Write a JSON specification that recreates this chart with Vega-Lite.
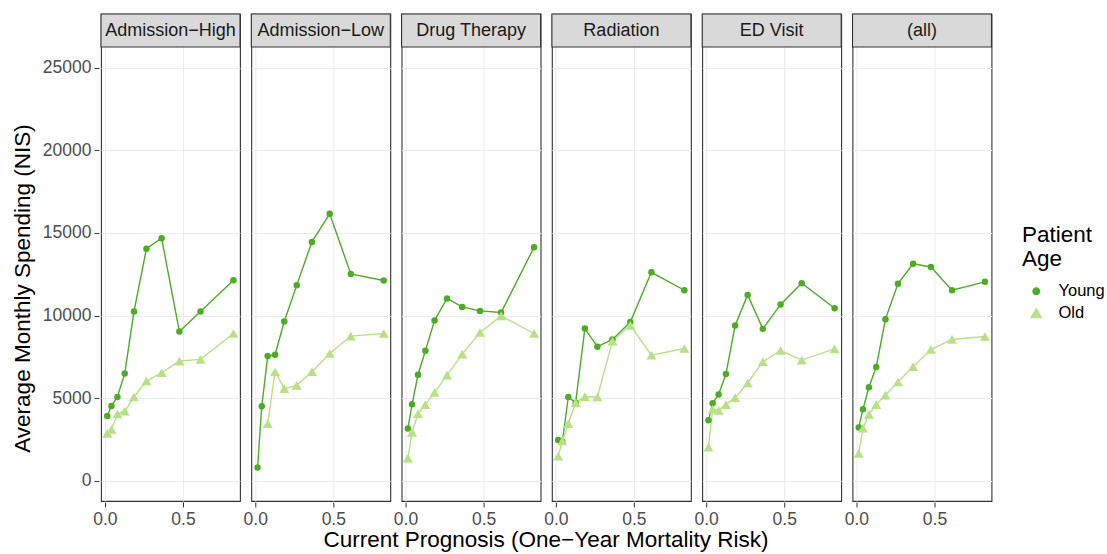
{
  "$schema": "https://vega.github.io/schema/vega-lite/v6.json",
  "padding": {"left": 11, "top": 12, "right": 5, "bottom": 5},
  "data": {
    "values": [
      {"panel": "Admission−High", "age": "Young", "risk": 0.015, "spend": 3910},
      {"panel": "Admission−High", "age": "Young", "risk": 0.042, "spend": 4520},
      {"panel": "Admission−High", "age": "Young", "risk": 0.08, "spend": 5060},
      {"panel": "Admission−High", "age": "Young", "risk": 0.127, "spend": 6490},
      {"panel": "Admission−High", "age": "Young", "risk": 0.186, "spend": 10240},
      {"panel": "Admission−High", "age": "Young", "risk": 0.266, "spend": 14050},
      {"panel": "Admission−High", "age": "Young", "risk": 0.363, "spend": 14680},
      {"panel": "Admission−High", "age": "Young", "risk": 0.477, "spend": 9030},
      {"panel": "Admission−High", "age": "Young", "risk": 0.612, "spend": 10240},
      {"panel": "Admission−High", "age": "Young", "risk": 0.823, "spend": 12140},
      {"panel": "Admission−High", "age": "Old", "risk": 0.015, "spend": 2860},
      {"panel": "Admission−High", "age": "Old", "risk": 0.042, "spend": 3100},
      {"panel": "Admission−High", "age": "Old", "risk": 0.08, "spend": 4030},
      {"panel": "Admission−High", "age": "Old", "risk": 0.127, "spend": 4210},
      {"panel": "Admission−High", "age": "Old", "risk": 0.186, "spend": 5060},
      {"panel": "Admission−High", "age": "Old", "risk": 0.266, "spend": 6030},
      {"panel": "Admission−High", "age": "Old", "risk": 0.363, "spend": 6530},
      {"panel": "Admission−High", "age": "Old", "risk": 0.477, "spend": 7240},
      {"panel": "Admission−High", "age": "Old", "risk": 0.612, "spend": 7340},
      {"panel": "Admission−High", "age": "Old", "risk": 0.823, "spend": 8910},

      {"panel": "Admission−Low", "age": "Young", "risk": 0.015, "spend": 790},
      {"panel": "Admission−Low", "age": "Young", "risk": 0.042, "spend": 4500},
      {"panel": "Admission−Low", "age": "Young", "risk": 0.08, "spend": 7540},
      {"panel": "Admission−Low", "age": "Young", "risk": 0.127, "spend": 7620},
      {"panel": "Admission−Low", "age": "Young", "risk": 0.186, "spend": 9640},
      {"panel": "Admission−Low", "age": "Young", "risk": 0.266, "spend": 11840},
      {"panel": "Admission−Low", "age": "Young", "risk": 0.363, "spend": 14460},
      {"panel": "Admission−Low", "age": "Young", "risk": 0.477, "spend": 16160},
      {"panel": "Admission−Low", "age": "Young", "risk": 0.612, "spend": 12520},
      {"panel": "Admission−Low", "age": "Young", "risk": 0.823, "spend": 12120},
      {"panel": "Admission−Low", "age": "Old", "risk": 0.08, "spend": 3450},
      {"panel": "Admission−Low", "age": "Old", "risk": 0.127, "spend": 6590},
      {"panel": "Admission−Low", "age": "Old", "risk": 0.186, "spend": 5570},
      {"panel": "Admission−Low", "age": "Old", "risk": 0.266, "spend": 5770},
      {"panel": "Admission−Low", "age": "Old", "risk": 0.363, "spend": 6590},
      {"panel": "Admission−Low", "age": "Old", "risk": 0.477, "spend": 7700},
      {"panel": "Admission−Low", "age": "Old", "risk": 0.612, "spend": 8750},
      {"panel": "Admission−Low", "age": "Old", "risk": 0.823, "spend": 8910},

      {"panel": "Drug Therapy", "age": "Young", "risk": 0.015, "spend": 3150},
      {"panel": "Drug Therapy", "age": "Young", "risk": 0.042, "spend": 4620},
      {"panel": "Drug Therapy", "age": "Young", "risk": 0.08, "spend": 6410},
      {"panel": "Drug Therapy", "age": "Young", "risk": 0.127, "spend": 7860},
      {"panel": "Drug Therapy", "age": "Young", "risk": 0.186, "spend": 9700},
      {"panel": "Drug Therapy", "age": "Young", "risk": 0.266, "spend": 11030},
      {"panel": "Drug Therapy", "age": "Young", "risk": 0.363, "spend": 10520},
      {"panel": "Drug Therapy", "age": "Young", "risk": 0.477, "spend": 10280},
      {"panel": "Drug Therapy", "age": "Young", "risk": 0.612, "spend": 10180},
      {"panel": "Drug Therapy", "age": "Young", "risk": 0.823, "spend": 14130},
      {"panel": "Drug Therapy", "age": "Old", "risk": 0.015, "spend": 1350},
      {"panel": "Drug Therapy", "age": "Old", "risk": 0.042, "spend": 2920},
      {"panel": "Drug Therapy", "age": "Old", "risk": 0.08, "spend": 4050},
      {"panel": "Drug Therapy", "age": "Old", "risk": 0.127, "spend": 4600},
      {"panel": "Drug Therapy", "age": "Old", "risk": 0.186, "spend": 5340},
      {"panel": "Drug Therapy", "age": "Old", "risk": 0.266, "spend": 6390},
      {"panel": "Drug Therapy", "age": "Old", "risk": 0.363, "spend": 7660},
      {"panel": "Drug Therapy", "age": "Old", "risk": 0.477, "spend": 8970},
      {"panel": "Drug Therapy", "age": "Old", "risk": 0.612, "spend": 9980},
      {"panel": "Drug Therapy", "age": "Old", "risk": 0.823, "spend": 8910},

      {"panel": "Radiation", "age": "Young", "risk": 0.015, "spend": 2460},
      {"panel": "Radiation", "age": "Young", "risk": 0.042, "spend": 2360},
      {"panel": "Radiation", "age": "Young", "risk": 0.08, "spend": 5060},
      {"panel": "Radiation", "age": "Young", "risk": 0.127, "spend": 4720},
      {"panel": "Radiation", "age": "Young", "risk": 0.186, "spend": 9210},
      {"panel": "Radiation", "age": "Young", "risk": 0.266, "spend": 8110},
      {"panel": "Radiation", "age": "Young", "risk": 0.363, "spend": 8550},
      {"panel": "Radiation", "age": "Young", "risk": 0.477, "spend": 9600},
      {"panel": "Radiation", "age": "Young", "risk": 0.612, "spend": 12620},
      {"panel": "Radiation", "age": "Young", "risk": 0.823, "spend": 11530},
      {"panel": "Radiation", "age": "Old", "risk": 0.015, "spend": 1470},
      {"panel": "Radiation", "age": "Old", "risk": 0.042, "spend": 2400},
      {"panel": "Radiation", "age": "Old", "risk": 0.08, "spend": 3450},
      {"panel": "Radiation", "age": "Old", "risk": 0.127, "spend": 4720},
      {"panel": "Radiation", "age": "Old", "risk": 0.186, "spend": 5080},
      {"panel": "Radiation", "age": "Old", "risk": 0.266, "spend": 5060},
      {"panel": "Radiation", "age": "Old", "risk": 0.363, "spend": 8450},
      {"panel": "Radiation", "age": "Old", "risk": 0.477, "spend": 9400},
      {"panel": "Radiation", "age": "Old", "risk": 0.612, "spend": 7600},
      {"panel": "Radiation", "age": "Old", "risk": 0.823, "spend": 8000},

      {"panel": "ED Visit", "age": "Young", "risk": 0.015, "spend": 3650},
      {"panel": "ED Visit", "age": "Young", "risk": 0.042, "spend": 4680},
      {"panel": "ED Visit", "age": "Young", "risk": 0.08, "spend": 5220},
      {"panel": "ED Visit", "age": "Young", "risk": 0.127, "spend": 6450},
      {"panel": "ED Visit", "age": "Young", "risk": 0.186, "spend": 9400},
      {"panel": "ED Visit", "age": "Young", "risk": 0.266, "spend": 11250},
      {"panel": "ED Visit", "age": "Young", "risk": 0.363, "spend": 9190},
      {"panel": "ED Visit", "age": "Young", "risk": 0.477, "spend": 10670},
      {"panel": "ED Visit", "age": "Young", "risk": 0.612, "spend": 11960},
      {"panel": "ED Visit", "age": "Young", "risk": 0.823, "spend": 10440},
      {"panel": "ED Visit", "age": "Old", "risk": 0.015, "spend": 2020},
      {"panel": "ED Visit", "age": "Old", "risk": 0.042, "spend": 4320},
      {"panel": "ED Visit", "age": "Old", "risk": 0.08, "spend": 4250},
      {"panel": "ED Visit", "age": "Old", "risk": 0.127, "spend": 4600},
      {"panel": "ED Visit", "age": "Old", "risk": 0.186, "spend": 5020},
      {"panel": "ED Visit", "age": "Old", "risk": 0.266, "spend": 5910},
      {"panel": "ED Visit", "age": "Old", "risk": 0.363, "spend": 7200},
      {"panel": "ED Visit", "age": "Old", "risk": 0.477, "spend": 7880},
      {"panel": "ED Visit", "age": "Old", "risk": 0.612, "spend": 7300},
      {"panel": "ED Visit", "age": "Old", "risk": 0.823, "spend": 7980},

      {"panel": "(all)", "age": "Young", "risk": 0.015, "spend": 3210},
      {"panel": "(all)", "age": "Young", "risk": 0.042, "spend": 4320},
      {"panel": "(all)", "age": "Young", "risk": 0.08, "spend": 5650},
      {"panel": "(all)", "age": "Young", "risk": 0.127, "spend": 6880},
      {"panel": "(all)", "age": "Young", "risk": 0.186, "spend": 9780},
      {"panel": "(all)", "age": "Young", "risk": 0.266, "spend": 11920},
      {"panel": "(all)", "age": "Young", "risk": 0.363, "spend": 13130},
      {"panel": "(all)", "age": "Young", "risk": 0.477, "spend": 12940},
      {"panel": "(all)", "age": "Young", "risk": 0.612, "spend": 11530},
      {"panel": "(all)", "age": "Young", "risk": 0.823, "spend": 12040},
      {"panel": "(all)", "age": "Old", "risk": 0.015, "spend": 1650},
      {"panel": "(all)", "age": "Old", "risk": 0.042, "spend": 3170},
      {"panel": "(all)", "age": "Old", "risk": 0.08, "spend": 4010},
      {"panel": "(all)", "age": "Old", "risk": 0.127, "spend": 4600},
      {"panel": "(all)", "age": "Old", "risk": 0.186, "spend": 5180},
      {"panel": "(all)", "age": "Old", "risk": 0.266, "spend": 5970},
      {"panel": "(all)", "age": "Old", "risk": 0.363, "spend": 6900},
      {"panel": "(all)", "age": "Old", "risk": 0.477, "spend": 7940},
      {"panel": "(all)", "age": "Old", "risk": 0.612, "spend": 8550},
      {"panel": "(all)", "age": "Old", "risk": 0.823, "spend": 8730}
    ]
  },
  "facet": {
    "column": {
      "field": "panel",
      "type": "nominal",
      "sort": ["Admission−High", "Admission−Low", "Drug Therapy", "Radiation", "ED Visit", "(all)"],
      "header": {
        "title": "Current Prognosis (One−Year Mortality Risk)",
        "titleOrient": "bottom",
        "titleFontSize": 22.5,
        "titleFontWeight": "normal",
        "titleColor": "#000000",
        "titlePadding": -9,
        "labels": false
      }
    }
  },
  "spacing": 7.3,
  "spec": {
    "width": 139,
    "height": 487,
    "encoding": {
      "x": {
        "field": "risk",
        "type": "quantitative",
        "title": null,
        "scale": {"domain": [-0.025, 0.865], "nice": false, "zero": false},
        "axis": {"values": [0, 0.5], "format": ".1f"}
      },
      "y": {
        "field": "spend",
        "type": "quantitative",
        "title": "Average Monthly Spending (NIS)",
        "scale": {"domain": [-1240, 28270], "nice": false},
        "axis": {"values": [0, 5000, 10000, 15000, 20000, 25000], "format": "d", "titleY": 274}
      }
    },
    "layer": [
      {
        "mark": {"type": "line", "strokeWidth": 1.4},
        "encoding": {
          "color": {
            "field": "age",
            "type": "nominal",
            "sort": ["Young", "Old"],
            "scale": {"domain": ["Young", "Old"], "range": ["#4dac26", "#b8e186"]},
            "title": ["Patient", "Age"]
          }
        }
      },
      {
        "mark": {"type": "point", "filled": true, "opacity": 1},
        "encoding": {
          "color": {
            "field": "age",
            "type": "nominal",
            "sort": ["Young", "Old"],
            "scale": {"domain": ["Young", "Old"], "range": ["#4dac26", "#b8e186"]},
            "title": ["Patient", "Age"]
          },
          "shape": {
            "field": "age",
            "type": "nominal",
            "sort": ["Young", "Old"],
            "scale": {"domain": ["Young", "Old"], "range": ["circle", "triangle-up"]},
            "title": ["Patient", "Age"]
          },
          "size": {
            "field": "age",
            "type": "nominal",
            "sort": ["Young", "Old"],
            "scale": {"domain": ["Young", "Old"], "range": [42, 100]},
            "title": ["Patient", "Age"]
          }
        }
      },
      {
        "transform": [{"filter": "datum.age === 'Young' && datum.risk === 0.823"}],
        "mark": {"type": "rect", "fill": "#d9d9d9", "stroke": "#333333", "strokeWidth": 1.1},
        "encoding": {
          "x": {"datum": -0.025, "type": "quantitative"},
          "x2": {"datum": 0.865},
          "y": {"datum": 26270, "type": "quantitative"},
          "y2": {"datum": 28270}
        }
      },
      {
        "transform": [{"filter": "datum.age === 'Young' && datum.risk === 0.823"}],
        "mark": {"type": "text", "fontSize": 18, "color": "#1a1a1a", "baseline": "middle"},
        "encoding": {
          "x": {"datum": 0.42, "type": "quantitative"},
          "y": {"datum": 27270, "type": "quantitative"},
          "text": {"field": "panel"}
        }
      }
    ]
  },
  "config": {
    "font": "Liberation Sans",
    "view": {"stroke": "#333333", "strokeWidth": 1.1},
    "axis": {
      "grid": true,
      "gridColor": "#ebebeb",
      "gridWidth": 1,
      "domain": false,
      "tickColor": "#333333",
      "tickSize": 5,
      "labelFontSize": 17.5,
      "labelColor": "#4d4d4d",
      "labelPadding": 3,
      "titleFontSize": 22.5,
      "titleFontWeight": "normal",
      "titleColor": "#000000",
      "titlePadding": 7.7
    },
    "legend": {
      "orient": "none",
      "legendX": 921,
      "legendY": 210,
      "titleFontSize": 22.5,
      "titleFontWeight": "normal",
      "titleColor": "#000000",
      "titleLineHeight": 23.5,
      "titlePadding": 13,
      "labelFontSize": 16.5,
      "labelColor": "#000000",
      "symbolOffset": 6,
      "labelOffset": 14,
      "rowPadding": 5
    }
  }
}
